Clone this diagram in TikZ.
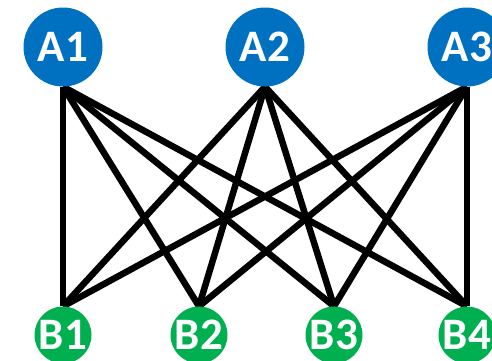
\documentclass[tikz,border=0pt]{standalone}
\usepackage{fontspec}
\setmainfont{Carlito}
\usetikzlibrary{backgrounds}
\definecolor{topblue}{HTML}{0070C0}
\definecolor{botgreen}{HTML}{00B050}
\begin{document}
\begin{tikzpicture}[x=1pt,y=-1pt,
  anode/.style={circle,fill=topblue,text=white,inner sep=0pt,minimum size=79pt,font=\fontsize{45}{45}\selectfont\bfseries},
  bnode/.style={circle,fill=botgreen,text=white,inner sep=0pt,minimum size=57pt,font=\fontsize{45}{45}\selectfont\bfseries},
  link/.style={line width=6.5pt,black}]
\useasboundingbox (0,0) rectangle (492,360);
\clip (0,0) rectangle (492,360);
% top row
\node[anode] (A1) at (63,47) {A1};
\node[anode] (A2) at (265,47) {A2};
\node[anode] (A3) at (467,47) {A3};
% bottom row
\node[bnode] (B1) at (63,335) {B1};
\node[bnode] (B2) at (199,335) {B2};
\node[bnode] (B3) at (334,335) {B3};
\node[bnode] (B4) at (467,335) {B4};
% complete bipartite links, kept behind the circles
\begin{scope}[on background layer]
\foreach \a in {A1,A2,A3}{
  \foreach \b in {B1,B2,B3,B4}{
    \draw[link] (\a.south) -- (\b.north);
  }
}
\end{scope}
\end{tikzpicture}
\end{document}
